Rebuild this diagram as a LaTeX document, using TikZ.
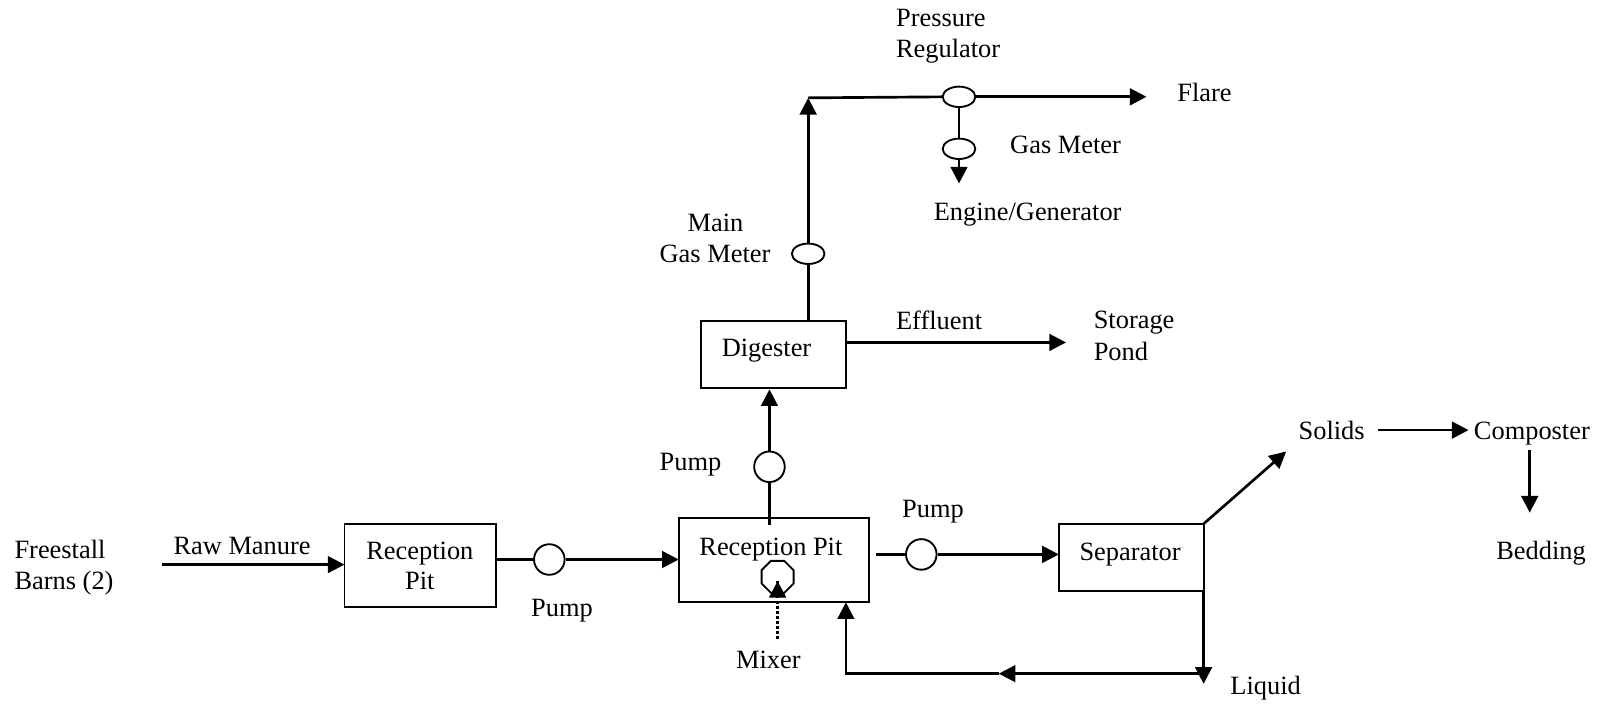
\documentclass[tikz,border=0pt]{standalone}
\usepackage{fontspec}
\setmainfont{Liberation Serif}
\usetikzlibrary{arrows.meta,shapes.geometric}
\def\pxu{0.7643pt}
\tikzset{
  x=0.7643pt,y=-0.7643pt,
  txt/.style={anchor=base west,inner sep=0pt,yshift=-1.3pt,font=\fontsize{19.8pt}{23pt}\selectfont},
  ctxt/.style={txt,anchor=base},
  procbox/.style={draw,line width=1.4pt,inner sep=0pt,minimum width=#1*\pxu},
  pumpc/.style={draw,circle,line width=1.4pt,inner sep=0pt,minimum size=30*\pxu},
  meter/.style={draw,ellipse,line width=1.4pt,inner sep=0pt,minimum width=32*\pxu,minimum height=20*\pxu},
  flow/.style={line width=2pt},
  arr/.style={flow,-{Triangle[length=12.5pt,width=12.5pt]}},
}
\begin{document}
\begin{tikzpicture}
\useasboundingbox (0,0) rectangle (1568,690);
% boxes
\node[procbox=149,minimum height=82*\pxu] (rp1) at (412.5,555) {};
\node[procbox=187,minimum height=83*\pxu] (rp2) at (759.5,549.5) {};
\node[procbox=142,minimum height=66*\pxu] (dig) at (759,348) {};
\node[procbox=142,minimum height=66*\pxu] (sep) at (1110,547) {};
% pumps, meters, mixer
\node[pumpc] (p1) at (539,549) {};
\node[pumpc] (p2) at (755,458) {};
\node[pumpc] (p3) at (904,544) {};
\node[meter] (m1) at (793,249) {};
\node[meter] (m2) at (941,95) {};
\node[meter] (m3) at (941,146) {};
\node[draw,regular polygon,regular polygon sides=8,line width=1.4pt,inner sep=0pt,minimum size=34*\pxu] (mix) at (763,566) {};
% free ends
\coordinate (rawS) at (159,554);
\coordinate (rawE) at (338,554);
\coordinate (rp1o) at (487,549);
\coordinate (rp2i) at (666,549);
\coordinate (rp2t) at (755,515);
\coordinate (digb) at (755,382);
\coordinate (digt) at (793,315);
\coordinate (corner) at (793,96);
\coordinate (flareE) at (1125,95);
\coordinate (engE) at (941,180);
\coordinate (effS) at (830,336);
\coordinate (effE) at (1046,336);
\coordinate (p3S) at (860,544);
\coordinate (sepi) at (1039,544);
\coordinate (sepTR) at (1181,514);
\coordinate (solE) at (1262,443);
\coordinate (solS) at (1352,422);
\coordinate (comI) at (1441,422);
\coordinate (comS) at (1501,442);
\coordinate (bedE) at (1501,503);
\coordinate (sepBR) at (1181,580);
\coordinate (liqE) at (1181,671);
\coordinate (liqT) at (1181,661);
\coordinate (liqM) at (980,661);
\coordinate (retC) at (830,661);
\coordinate (retE) at (830,591);
\coordinate (mixS) at (763,627);
\coordinate (mixE) at (763,570);
% connectors
\draw[arr] (rawS) -- (rawE);
\draw[flow] (rp1o) -- (p1.west);
\draw[arr] (p1.east) -- (rp2i);
\draw[flow] (rp2t) -- (p2.south);
\draw[arr] (p2.north) -- (digb);
\draw[flow] (digt) -- (m1.south);
\draw[arr] (m1.north) -- (corner);
\draw[flow] (corner) -- (m2.west);
\draw[arr] (m2.east) -- (flareE);
\draw[flow] (m2.south) -- (m3.north);
\draw[arr] (m3.south) -- (engE);
\draw[arr] (effS) -- (effE);
\draw[flow] (p3S) -- (p3.west);
\draw[arr] (p3.east) -- (sepi);
\draw[arr] (sepTR) -- (solE);
\draw[arr] (solS) -- (comI);
\draw[arr] (comS) -- (bedE);
\draw[arr] (sepBR) -- (liqE);
\draw[arr] (liqT) -- (liqM);
\draw[arr] (liqM) -- (retC) -- (retE);
\draw[line width=2pt,dash pattern=on 2pt off 1.8pt] (mixS) -- (mixE);
\draw[arr] (763,585) -- (mixE);
% text
\node[txt] (t1) at (14,546) {Freestall};
\node[txt] (t2) at (14,577) {Barns (2)};
\node[txt] (t3) at (170,542) {Raw Manure};
\node[ctxt] (t4) at (412,547) {Reception};
\node[ctxt] (t5) at (412,577) {Pit};
\node[txt] (t6) at (521,603) {Pump};
\node[txt] (t7) at (647,460) {Pump};
\node[txt] (t8) at (885,506) {Pump};
\node[txt] (t9) at (686,543) {Reception Pit};
\node[txt] (t10) at (722,654) {Mixer};
\node[txt] (t11) at (1059,548) {Separator};
\node[txt] (t12) at (708,348) {Digester};
\node[ctxt] (t13) at (702,225) {Main};
\node[txt] (t14) at (647,256) {Gas Meter};
\node[txt] (t15) at (879,322) {Effluent};
\node[txt] (t16) at (1073,321) {Storage};
\node[txt] (t17) at (1073,352) {Pond};
\node[txt] (t18) at (879,24) {Pressure};
\node[txt] (t19) at (879,55) {Regulator};
\node[txt] (t20) at (1155,98) {Flare};
\node[txt] (t21) at (991,149) {Gas Meter};
\node[txt] (t22) at (916,215) {Engine/Generator};
\node[txt] (t23) at (1274,430) {Solids};
\node[txt] (t24) at (1446,430) {Composter};
\node[txt] (t25) at (1468,547) {Bedding};
\node[txt] (t26) at (1207,680) {Liquid};
\end{tikzpicture}
\end{document}
